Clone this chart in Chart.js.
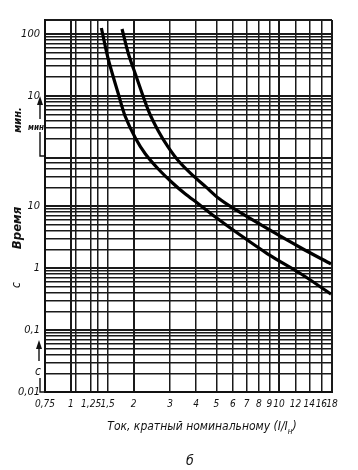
<!DOCTYPE html>
<html><head><meta charset="utf-8">
<script src="https://cdn.jsdelivr.net/npm/chart.js@4"></script>
<style>
html,body{margin:0;padding:0;background:#fff;}
#wrap{position:relative;width:358px;height:470px;overflow:hidden;}
canvas{position:absolute;left:0;top:0;}
.t{position:absolute;font-family:'Liberation Sans Narrow','DejaVu Sans Condensed','Liberation Sans',sans-serif;font-style:italic;color:#111;white-space:nowrap;line-height:1;transform:translate(-50%,-50%);}
.r{transform:translate(-50%,-50%) rotate(-90deg);}
svg{position:absolute;left:0;top:0;pointer-events:none;}
</style></head><body>
<div id="wrap">
<canvas id="c" width="358" height="470"></canvas>
<svg width="358" height="470">
  <g stroke="#111" stroke-width="1.4" fill="none">
    <line x1="40" y1="119" x2="40" y2="103"/>
    <path d="M40 132 L40 156 L45 156"/>
    <line x1="39" y1="361" x2="39" y2="347"/>
    <path d="M40 378 L40 392 L45 392"/>
  </g>
  <polygon points="40,96 37,105 43,105" fill="#111"/>
  <polygon points="39,340 36,349 42,349" fill="#111"/>
</svg>
<div class="t r" style="left:17px;top:120px;font-size:11px;font-weight:bold;">мин.</div>
<div class="t" style="left:36px;top:128px;font-size:8px;font-weight:bold;">мин</div>
<div class="t r" style="left:16px;top:228px;font-size:13px;font-weight:bold;">Время</div>
<div class="t r" style="left:16px;top:285px;font-size:12px;">с</div>
<div class="t" style="left:38px;top:371px;font-size:12px;">с</div>
<div class="t" style="left:202px;top:428px;font-size:12px;">Ток, кратный номинальному (I/I<sub style="font-size:8px;">н</sub>)</div>
<div class="t" style="left:190px;top:460px;font-size:14px;">б</div>
</div>
<script>
// Curve 1 (lower): current multiple I/In vs time, s
const currentMultiple1 = [1.40, 1.51, 1.69, 1.82, 2.04, 2.28, 2.63, 3.08, 3.55, 4.11, 4.80, 6.41, 8.85, 12.8, 17.8];
const time1            = [7430, 2350, 640, 283, 125, 69.0, 39.5, 23.5, 15.6, 10.8, 7.16, 3.54, 1.68, 0.80, 0.38];
// Curve 2 (upper)
const currentMultiple2 = [1.76, 1.89, 2.04, 2.36, 2.63, 2.94, 3.29, 3.84, 4.44, 5.13, 6.00, 8.85, 12.8, 17.8];
const time2            = [7160, 2830, 1346, 341, 162, 88.0, 53.2, 31.5, 20.5, 13.3, 9.29, 4.26, 2.10, 1.16];

const xTickValues = [0.75, 1, 1.25, 1.5, 2, 3, 4, 5, 6, 7, 8, 9, 10, 12, 14, 16, 18];
const xTickLabels = ['0,75', '1', '1,25', '1,5', '2', '3', '4', '5', '6', '7', '8', '9', '10', '12', '14', '16', '18'];
const xExtraGrid = [1.05, 1.35];

const yTickValues = [0.01, 0.1, 1, 10, 600, 6000];
const yTickLabels = ['0,01', '0,1', '1', '10', '10', '100'];
const yGridValues = [0.01,0.02,0.03,0.04,0.05,0.06,0.07,0.08,0.09,
  0.1,0.2,0.3,0.4,0.5,0.6,0.7,0.8,0.9,
  1,2,3,4,5,6,7,8,9,
  10,20,30,40,50,60,
  120,180,240,300,360,420,480,540,
  600,1200,1800,2400,3000,3600,4200,4800,5400,
  6000,10000];
const yMajor = [0.01, 0.1, 1, 10, 60, 600, 6000, 10000];
const xMajor = [0.75, 1, 2, 10, 18];

const FONT = "'Liberation Sans Narrow','DejaVu Sans Condensed','Liberation Sans',sans-serif";
const near = (a, b) => Math.abs(a - b) / b < 1e-6;
const lookup = (vals, labels, v) => { const i = vals.findIndex(t => near(t, v)); return i < 0 ? '' : labels[i]; };

const xGrid = [...xTickValues, ...xExtraGrid].sort((a, b) => a - b);

new Chart(document.getElementById('c'), {
  type: 'scatter',
  data: {
    datasets: [
      { data: currentMultiple1.map((x, i) => ({ x, y: time1[i] })), showLine: true, borderColor: '#000', borderWidth: 3.2, pointRadius: 0, tension: 0.3 },
      { data: currentMultiple2.map((x, i) => ({ x, y: time2[i] })), showLine: true, borderColor: '#000', borderWidth: 3.2, pointRadius: 0, tension: 0.3 }
    ]
  },
  options: {
    responsive: false,
    animation: false,
    devicePixelRatio: 1,
    layout: { padding: { top: 20, right: 26, left: 0, bottom: 0 } },
    plugins: { legend: { display: false }, tooltip: { enabled: false } },
    scales: {
      x: {
        type: 'logarithmic', min: 0.75, max: 18,
        afterBuildTicks: s => { s.ticks = xGrid.map(v => ({ value: v })); },
        afterFit: s => { s.height = 78; },
        ticks: { autoSkip: false, maxRotation: 0, minRotation: 0, padding: 6, color: '#111',
          font: { family: FONT, size: 10, style: 'italic' },
          callback: v => lookup(xTickValues, xTickLabels, v) },
        grid: { drawTicks: false, color: '#1a1a1a',
          lineWidth: c => (c.tick && xMajor.some(m => near(m, c.tick.value))) ? 2 : 1.5 },
        border: { display: true, color: '#111', width: 2 }
      },
      y: {
        type: 'logarithmic', min: 0.01, max: 10000,
        afterBuildTicks: s => { s.ticks = yGridValues.map(v => ({ value: v })); },
        afterFit: s => { s.width = 45; },
        ticks: { autoSkip: false, padding: 5, color: '#111',
          font: { family: FONT, size: 11, style: 'italic' },
          callback: v => lookup(yTickValues, yTickLabels, v) },
        grid: { drawTicks: false, color: '#1a1a1a',
          lineWidth: c => (c.tick && yMajor.some(m => near(m, c.tick.value))) ? 2 : 1.4 },
        border: { display: true, color: '#111', width: 2 }
      }
    }
  }
});
</script>
</body></html>
